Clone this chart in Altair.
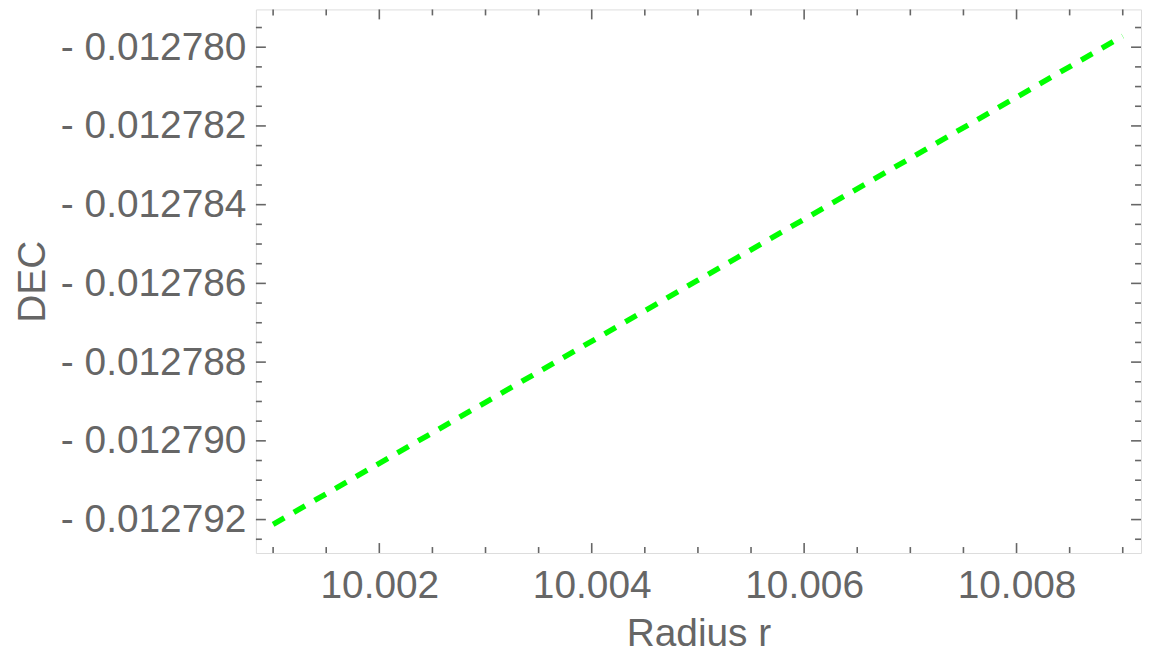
import altair as alt
import pandas as pd

# Series
radius = [10.001, 10.003, 10.005, 10.007, 10.009]
dec = [-0.01279212, -0.01278902, -0.01278592, -0.01278282, -0.01277972]

# Tick values
x_major = [10.002, 10.004, 10.006, 10.008]
x_minor = [10.001, 10.0015, 10.0025, 10.003, 10.0035, 10.0045, 10.005, 10.0055,
           10.0065, 10.007, 10.0075, 10.0085, 10.009]
y_major = [-0.012780, -0.012782, -0.012784, -0.012786, -0.012788, -0.012790, -0.012792]
y_minor = [-0.0127795, -0.0127805, -0.0127810, -0.0127815, -0.0127825, -0.0127830,
           -0.0127835, -0.0127845, -0.0127850, -0.0127855, -0.0127865, -0.0127870,
           -0.0127875, -0.0127885, -0.0127890, -0.0127895, -0.0127905, -0.0127910,
           -0.0127915, -0.0127925]

x_domain = [10.000838, 10.009172]
y_domain = [-0.01279285, -0.01277904]

W, H = 889, 546
GRAY = "#666666"
FONT = "Liberation Sans"

df = pd.DataFrame({"r": radius, "dec": dec})
dfx_major = pd.DataFrame({"r": x_major})
dfx_minor = pd.DataFrame({"r": x_minor})
dfy_major = pd.DataFrame({"dec": y_major})
dfy_minor = pd.DataFrame({"dec": y_minor})

xscale = alt.Scale(domain=x_domain, nice=False, zero=False)
yscale = alt.Scale(domain=y_domain, nice=False, zero=False)

xaxis = alt.Axis(
    title="Radius r", values=x_major, format=".3f", domain=False, ticks=False, grid=False,
    labelFontSize=39, labelColor=GRAY, labelFont=FONT, labelPadding=14, labelLimit=0,
    titleFontSize=39, titleColor=GRAY, titleFont=FONT, titleFontWeight="normal",
    titleY=93, titleBaseline="alphabetic", labelFlush=False, labelOverlap=False,
)
yaxis = alt.Axis(
    title="DEC", values=y_major, labelExpr="'- ' + format(-datum.value, '.6f')",
    domain=False, ticks=False, grid=False, labelLimit=0,
    labelFontSize=39, labelColor=GRAY, labelFont=FONT, labelPadding=10,
    titleFontSize=39, titleColor=GRAY, titleFont=FONT, titleFontWeight="normal",
    titleX=-212, titleY=273, titleAngle=270, titleAlign="center", titleBaseline="alphabetic",
    labelFlush=False, labelOverlap=False,
)

line = alt.Chart(df).mark_line(
    color="#00ff00", strokeWidth=5.5, strokeDash=[13, 11], strokeCap="butt"
).encode(
    x=alt.X("r:Q", scale=xscale, axis=xaxis),
    y=alt.Y("dec:Q", scale=yscale, axis=yaxis),
)

tick_style = dict(color=GRAY, strokeWidth=1.6)

def vticks(data, y0, y1):
    return alt.Chart(data).mark_rule(**tick_style).encode(
        x=alt.X("r:Q", scale=xscale, axis=xaxis),
        y=alt.value(y0), y2=alt.value(y1),
    )

def hticks(data, x0, x1):
    return alt.Chart(data).mark_rule(**tick_style).encode(
        y=alt.Y("dec:Q", scale=yscale, axis=yaxis),
        x=alt.value(x0), x2=alt.value(x1),
    )

layers = [
    vticks(dfx_major, H, H - 10), vticks(dfx_minor, H, H - 6),
    vticks(dfx_major, 0, 10), vticks(dfx_minor, 0, 6),
    hticks(dfy_major, 0, 10), hticks(dfy_minor, 0, 6),
    hticks(dfy_major, W, W - 10), hticks(dfy_minor, W, W - 6),
    line,
]

chart = alt.layer(*layers).properties(
    width=W, height=H,
    autosize=alt.AutoSizeParams(type="none"),
    padding={"left": 249, "top": 0, "right": 2, "bottom": 101},
).configure_view(stroke=GRAY, strokeWidth=1.6).configure(background="white")

chart.save("out.html", embed_options={"renderer": "svg", "actions": False})
